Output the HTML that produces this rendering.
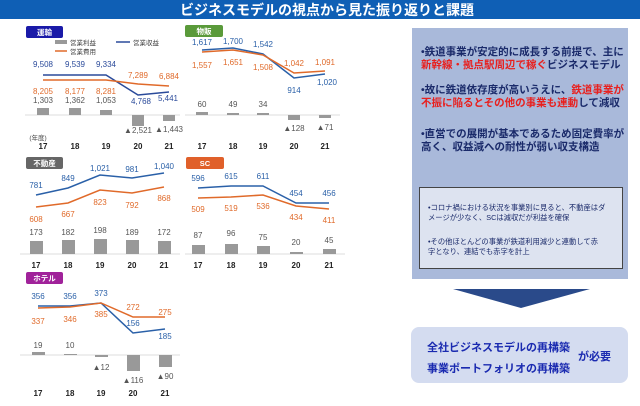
<!DOCTYPE html>
<html><head><meta charset="utf-8"><style>
body{margin:0;width:640px;height:401px;overflow:hidden;background:#fff;font-family:"Liberation Sans","Noto Sans CJK JP",sans-serif}
</style></head><body>
<svg width="640" height="401" viewBox="0 0 640 401" xmlns="http://www.w3.org/2000/svg" font-family="Liberation Sans, Noto Sans CJK JP, sans-serif">
<rect x="0" y="0" width="640" height="19" fill="#0f5fb5"/>
<text x="327" y="15" font-size="14" font-weight="bold" fill="#fff" text-anchor="middle">ビジネスモデルの視点から見た振り返りと課題</text>

<g font-size="8" text-anchor="middle">
<rect x="26" y="26" width="37" height="12" rx="2" fill="#1a1aa8"/><text x="44.5" y="35" fill="#fff" font-weight="bold" font-size="7.5">運輸</text>
<rect x="55" y="40" width="12" height="4" fill="#999"/><text x="70" y="45" text-anchor="start" fill="#444" font-size="6.5">営業利益</text>
<line x1="116" y1="42" x2="130" y2="42" stroke="#2a4a9a" stroke-width="1.5"/><text x="133" y="45" text-anchor="start" fill="#444" font-size="6.5">営業収益</text>
<line x1="55" y1="51" x2="67" y2="51" stroke="#e06a2a" stroke-width="1.5"/><text x="70" y="54" text-anchor="start" fill="#444" font-size="6.5">営業費用</text>
<polyline points="43,75 75,75 106,75 138,95 169,92" fill="none" stroke="#2a4a9a" stroke-width="1.5"/>
<polyline points="43,80 75,80 106,80 138,84 169,86" fill="none" stroke="#e06a2a" stroke-width="1.5"/>
<g fill="#2a4a9a"><text x="43" y="67">9,508</text><text x="75" y="67">9,539</text><text x="106" y="67">9,334</text><text x="141" y="104">4,768</text><text x="168" y="101">5,441</text></g>
<g fill="#e06a2a"><text x="43" y="94">8,205</text><text x="75" y="94">8,177</text><text x="106" y="94">8,281</text><text x="138" y="78">7,289</text><text x="169" y="79">6,884</text></g>
<g fill="#555"><text x="43" y="103">1,303</text><text x="75" y="103">1,362</text><text x="106" y="103">1,053</text><text x="138" y="133">▲2,521</text><text x="169" y="132">▲1,443</text></g>
<line x1="25" y1="115" x2="180" y2="115" stroke="#ddd"/>
<g fill="#999"><rect x="37" y="108" width="12" height="7"/><rect x="69" y="108" width="12" height="7"/><rect x="100" y="110" width="12" height="5"/><rect x="132" y="115" width="12" height="11"/><rect x="163" y="115" width="12" height="6"/></g>
<text x="38" y="140" fill="#444" font-size="6.5">(年度)</text>
<g fill="#222" font-weight="bold"><text x="43" y="149">17</text><text x="75" y="149">18</text><text x="106" y="149">19</text><text x="138" y="149">20</text><text x="169" y="149">21</text></g>

<rect x="185" y="25" width="38" height="12" rx="2" fill="#5a9a3a"/><text x="204" y="34" fill="#fff" font-weight="bold" font-size="7.5">物販</text>
<polyline points="202,50 233,48 263,54 294,78 325,74" fill="none" stroke="#2a60a8" stroke-width="1.5"/>
<polyline points="202,52 233,50 263,55 294,73 325,71" fill="none" stroke="#e06a2a" stroke-width="1.5"/>
<g fill="#2a60a8"><text x="202" y="45">1,617</text><text x="233" y="44">1,700</text><text x="263" y="47">1,542</text><text x="294" y="93">914</text><text x="327" y="85">1,020</text></g>
<g fill="#e06a2a"><text x="202" y="68">1,557</text><text x="233" y="65">1,651</text><text x="263" y="70">1,508</text><text x="294" y="66">1,042</text><text x="325" y="65">1,091</text></g>
<g fill="#555"><text x="202" y="107">60</text><text x="233" y="107">49</text><text x="263" y="107">34</text><text x="294" y="131">▲128</text><text x="325" y="130">▲71</text></g>
<line x1="185" y1="115" x2="340" y2="115" stroke="#ddd"/>
<g fill="#999"><rect x="196" y="112" width="12" height="3"/><rect x="227" y="113" width="12" height="2"/><rect x="257" y="113" width="12" height="2"/><rect x="288" y="115" width="12" height="5"/><rect x="319" y="115" width="12" height="3"/></g>
<g fill="#222" font-weight="bold"><text x="202" y="149">17</text><text x="233" y="149">18</text><text x="263" y="149">19</text><text x="294" y="149">20</text><text x="325" y="149">21</text></g>

<rect x="26" y="157" width="37" height="12" rx="2" fill="#666"/><text x="44.5" y="166" fill="#fff" font-weight="bold" font-size="7.5">不動産</text>
<polyline points="36,195 68,188 100,175 132,178 164,173" fill="none" stroke="#2a60a8" stroke-width="1.5"/>
<polyline points="36,207 68,203 100,190 132,193 164,187" fill="none" stroke="#e06a2a" stroke-width="1.5"/>
<g fill="#2a60a8"><text x="36" y="188">781</text><text x="68" y="181">849</text><text x="100" y="171">1,021</text><text x="132" y="172">981</text><text x="164" y="169">1,040</text></g>
<g fill="#e06a2a"><text x="36" y="222">608</text><text x="68" y="217">667</text><text x="100" y="205">823</text><text x="132" y="208">792</text><text x="164" y="201">868</text></g>
<g fill="#555"><text x="36" y="235">173</text><text x="68" y="235">182</text><text x="100" y="233">198</text><text x="132" y="235">189</text><text x="164" y="235">172</text></g>
<line x1="20" y1="254" x2="180" y2="254" stroke="#ddd"/>
<g fill="#999"><rect x="30" y="241" width="13" height="13"/><rect x="62" y="240" width="13" height="14"/><rect x="94" y="239" width="13" height="15"/><rect x="126" y="240" width="13" height="14"/><rect x="158" y="241" width="13" height="13"/></g>
<g fill="#222" font-weight="bold"><text x="36" y="268">17</text><text x="68" y="268">18</text><text x="100" y="268">19</text><text x="132" y="268">20</text><text x="164" y="268">21</text></g>

<rect x="186" y="157" width="38" height="12" rx="2" fill="#e0602a"/><text x="205" y="166" fill="#fff" font-weight="bold" font-size="7.5">SC</text>
<polyline points="198,188 231,186 263,186 296,203 329,203" fill="none" stroke="#2a60a8" stroke-width="1.5"/>
<polyline points="198,198 231,197 263,195 296,206 329,209" fill="none" stroke="#e06a2a" stroke-width="1.5"/>
<g fill="#2a60a8"><text x="198" y="181">596</text><text x="231" y="179">615</text><text x="263" y="179">611</text><text x="296" y="196">454</text><text x="329" y="196">456</text></g>
<g fill="#e06a2a"><text x="198" y="212">509</text><text x="231" y="211">519</text><text x="263" y="209">536</text><text x="296" y="220">434</text><text x="329" y="223">411</text></g>
<g fill="#555"><text x="198" y="238">87</text><text x="231" y="236">96</text><text x="263" y="240">75</text><text x="296" y="245">20</text><text x="329" y="243">45</text></g>
<line x1="185" y1="254" x2="345" y2="254" stroke="#ddd"/>
<g fill="#999"><rect x="192" y="245" width="13" height="9"/><rect x="225" y="244" width="13" height="10"/><rect x="257" y="246" width="13" height="8"/><rect x="290" y="252" width="13" height="2"/><rect x="323" y="249" width="13" height="5"/></g>
<g fill="#222" font-weight="bold"><text x="198" y="268">17</text><text x="231" y="268">18</text><text x="263" y="268">19</text><text x="296" y="268">20</text><text x="329" y="268">21</text></g>

<rect x="26" y="272" width="37" height="12" rx="2" fill="#a0229a"/><text x="44.5" y="281" fill="#fff" font-weight="bold" font-size="7.5">ホテル</text>
<polyline points="38,306 70,306 101,303 133,333 165,329" fill="none" stroke="#2a60a8" stroke-width="1.5"/>
<polyline points="38,308 70,307 101,303 133,317 165,317" fill="none" stroke="#e06a2a" stroke-width="1.5"/>
<g fill="#2a60a8"><text x="38" y="299">356</text><text x="70" y="299">356</text><text x="101" y="296">373</text><text x="133" y="326">156</text><text x="165" y="339">185</text></g>
<g fill="#e06a2a"><text x="38" y="324">337</text><text x="70" y="322">346</text><text x="101" y="317">385</text><text x="133" y="310">272</text><text x="165" y="315">275</text></g>
<g fill="#555"><text x="38" y="348">19</text><text x="70" y="348">10</text><text x="101" y="370">▲12</text><text x="133" y="383">▲116</text><text x="165" y="379">▲90</text></g>
<line x1="20" y1="355" x2="180" y2="355" stroke="#ddd"/>
<g fill="#999"><rect x="32" y="352" width="13" height="3"/><rect x="64" y="354" width="13" height="1"/><rect x="95" y="355" width="13" height="2"/><rect x="127" y="355" width="13" height="16"/><rect x="159" y="355" width="13" height="12"/></g>
<g fill="#222" font-weight="bold"><text x="38" y="396">17</text><text x="70" y="396">18</text><text x="101" y="396">19</text><text x="133" y="396">20</text><text x="165" y="396">21</text></g>
</g>

<rect x="412" y="28" width="216" height="251" fill="#a9b9da"/>
<g font-size="10.5" font-weight="bold" fill="#1a2a6a">
<text x="421" y="55">•鉄道事業が安定的に成長する前提で、主に</text>
<text x="421" y="68"><tspan fill="#e8201e">新幹線・拠点駅周辺で稼ぐ</tspan>ビジネスモデル</text>
<text x="421" y="93">•故に鉄道依存度が高いうえに、<tspan fill="#e8201e">鉄道事業が</tspan></text>
<text x="421" y="106"><tspan fill="#e8201e">不振に陥るとその他の事業も連動</tspan>して減収</text>
<text x="421" y="137">•直営での展開が基本であるため固定費率が</text>
<text x="421" y="150">高く、収益減への耐性が弱い収支構造</text>
</g>
<rect x="419.5" y="187.5" width="203" height="81" fill="#dde3f0" stroke="#444"/>
<g font-size="7.3" fill="#1a2a6a">
<text x="428" y="210">•コロナ禍における状況を事業別に見ると、不動産はダ</text>
<text x="428" y="220">メージが少なく、SCは減収だが利益を確保</text>
<text x="428" y="244">•その他ほとんどの事業が鉄道利用減少と連動して赤</text>
<text x="428" y="254">字となり、連結でも赤字を計上</text>
</g>
<polygon points="453,289 590,289 521,308" fill="#2a4a8a"/>
<rect x="411" y="327" width="217" height="56" rx="8" fill="#d4dcf0"/>
<g font-size="11" font-weight="bold" fill="#1a2ab0">
<text x="427" y="351">全社ビジネスモデルの再構築</text>
<text x="427" y="372">事業ポートフォリオの再構築</text>
<text x="578" y="360">が必要</text>
</g>
</svg>
</body></html>
